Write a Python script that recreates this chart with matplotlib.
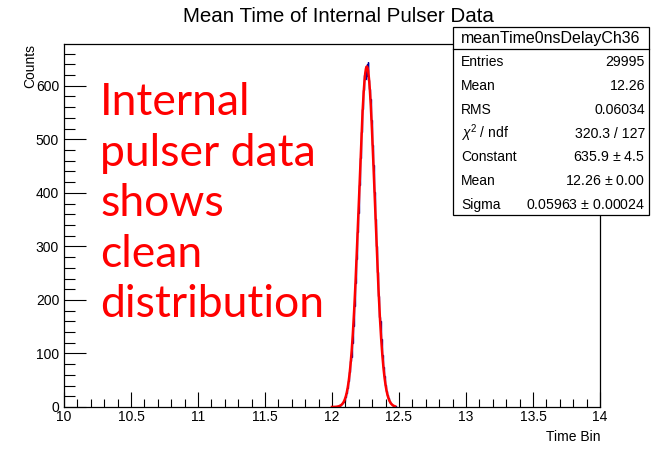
import matplotlib.pyplot as plt
import numpy as np
from matplotlib.patches import Rectangle

# histogram counts, bin width 0.004, first bin centred at 12.04
bin_start = 12.038
bin_width = 0.004
counts = [1, 0, 2, 1, 3, 2, 4, 3, 5, 6, 7, 9, 10, 11, 16, 18, 19, 27, 28, 36,
          39, 49, 53, 65, 71, 86, 93, 112, 120, 142, 152, 178, 189, 218, 231, 263, 277, 312, 326, 363,
          378, 415, 429, 466, 478, 514, 522, 557, 562, 593, 596, 620, 612, 637, 618,
          641,
          626, 645, 611, 606, 594, 580, 576, 543, 536, 500, 490, 452, 441, 402, 389, 351, 338, 300, 288,
          252, 241, 208, 198, 169, 160, 134, 127, 105, 98, 81, 75, 61, 57, 45, 42, 33, 30, 23, 22,
          16, 15, 11, 10, 8, 7, 5, 4, 3, 3, 2, 2, 1, 1, 1, 0]

# fit result (gaus) from the stats box
fit_const = 635.9
fit_mean = 12.26
fit_sigma = 0.05963
fit_range = (12.0, 12.47)

stat_names = ["Entries", "Mean", "RMS", r"$\chi^2$ / ndf", "Constant", "Mean", "Sigma"]
stat_values = ["29995", "12.26", "0.06034", "320.3 / 127", "635.9 $\\pm$ 4.5",
               "12.26 $\\pm$ 0.00", "0.05963 $\\pm$ 0.00024"]

W, H = 654, 453
fig = plt.figure(figsize=(W / 100, H / 100), dpi=100)
plt.rcParams['font.family'] = ['Liberation Sans', 'DejaVu Sans']
plt.rcParams['mathtext.fontset'] = 'custom'
plt.rcParams['mathtext.rm'] = 'Liberation Sans'
plt.rcParams['mathtext.it'] = 'Liberation Sans:italic'

ax = fig.add_axes([64 / W, 1 - 407 / H, (600 - 64) / W, (407 - 44) / H])

edges = bin_start + bin_width * np.arange(len(counts) + 1)
ax.stairs(counts, edges, color='#000099', lw=1.0)

xf = np.linspace(fit_range[0], fit_range[1], 600)
yf = fit_const * np.exp(-0.5 * ((xf - fit_mean) / fit_sigma) ** 2)
ax.plot(xf, yf, color='#ff0000', lw=1.8)

ax.set_xlim(10, 14)
ax.set_ylim(0, 678)
ax.set_xticks(np.arange(10, 14.01, 0.5))
ax.set_xticklabels(['%g' % v for v in np.arange(10, 14.01, 0.5)])
ax.set_xticks(np.arange(10, 14.01, 0.1), minor=True)
ax.set_yticks(np.arange(0, 601, 100))
ax.set_yticks(np.arange(0, 678, 20), minor=True)
ax.tick_params(axis='x', which='major', direction='in', length=11, width=0.8, labelsize=10, pad=2.5)
ax.tick_params(axis='x', which='minor', direction='in', length=5.5, width=0.8)
ax.tick_params(axis='y', which='major', direction='in', length=16, width=0.8, labelsize=10, pad=3.5)
ax.tick_params(axis='y', which='minor', direction='in', length=8, width=0.8)
for s in ax.spines.values():
    s.set_linewidth(0.9)

fig.text(600 / W, 1 - 437 / H, "Time Bin", ha='right', va='center', fontsize=10)
fig.text(30 / W, 1 - 44 / H, "Counts", ha='center', va='top', rotation=90, fontsize=10)
fig.text(338 / W, 1 - 16 / H, "Mean Time of Internal Pulser Data", ha='center', va='center', fontsize=14.8)

fig.text(100 / W, 1 - 82 / H, "Internal\npulser data\nshows\nclean\ndistribution",
         color='#ff0000', fontsize=32, ha='left', va='top', linespacing=1.29,
         family=['Lato', 'DejaVu Sans'])

# stats box
bx0, bx1, by0, by1, hy = 453, 649, 27, 215, 49
fig.patches.append(Rectangle((bx0 / W, 1 - by1 / H), (bx1 - bx0) / W, (by1 - by0) / H,
                             transform=fig.transFigure, facecolor='white', edgecolor='black', lw=0.9))
fig.lines.append(plt.Line2D([bx0 / W, bx1 / W], [1 - hy / H, 1 - hy / H],
                            transform=fig.transFigure, color='black', lw=0.9))
fig.text((bx0 + bx1) / 2 / W, 1 - 38.5 / H, "meanTime0nsDelayCh36", ha='center', va='center', fontsize=11.5)
row_h = (by1 - hy) / len(stat_names)
for i, (n, v) in enumerate(zip(stat_names, stat_values)):
    yy = 1 - (hy + 1.5 + row_h * (i + 0.5)) / H
    fig.text((bx0 + 8) / W, yy, n, ha='left', va='center', fontsize=10)
    fig.text((bx1 - 4) / W, yy, v, ha='right', va='center', fontsize=10.2)

fig.savefig('out.png', dpi=100)
